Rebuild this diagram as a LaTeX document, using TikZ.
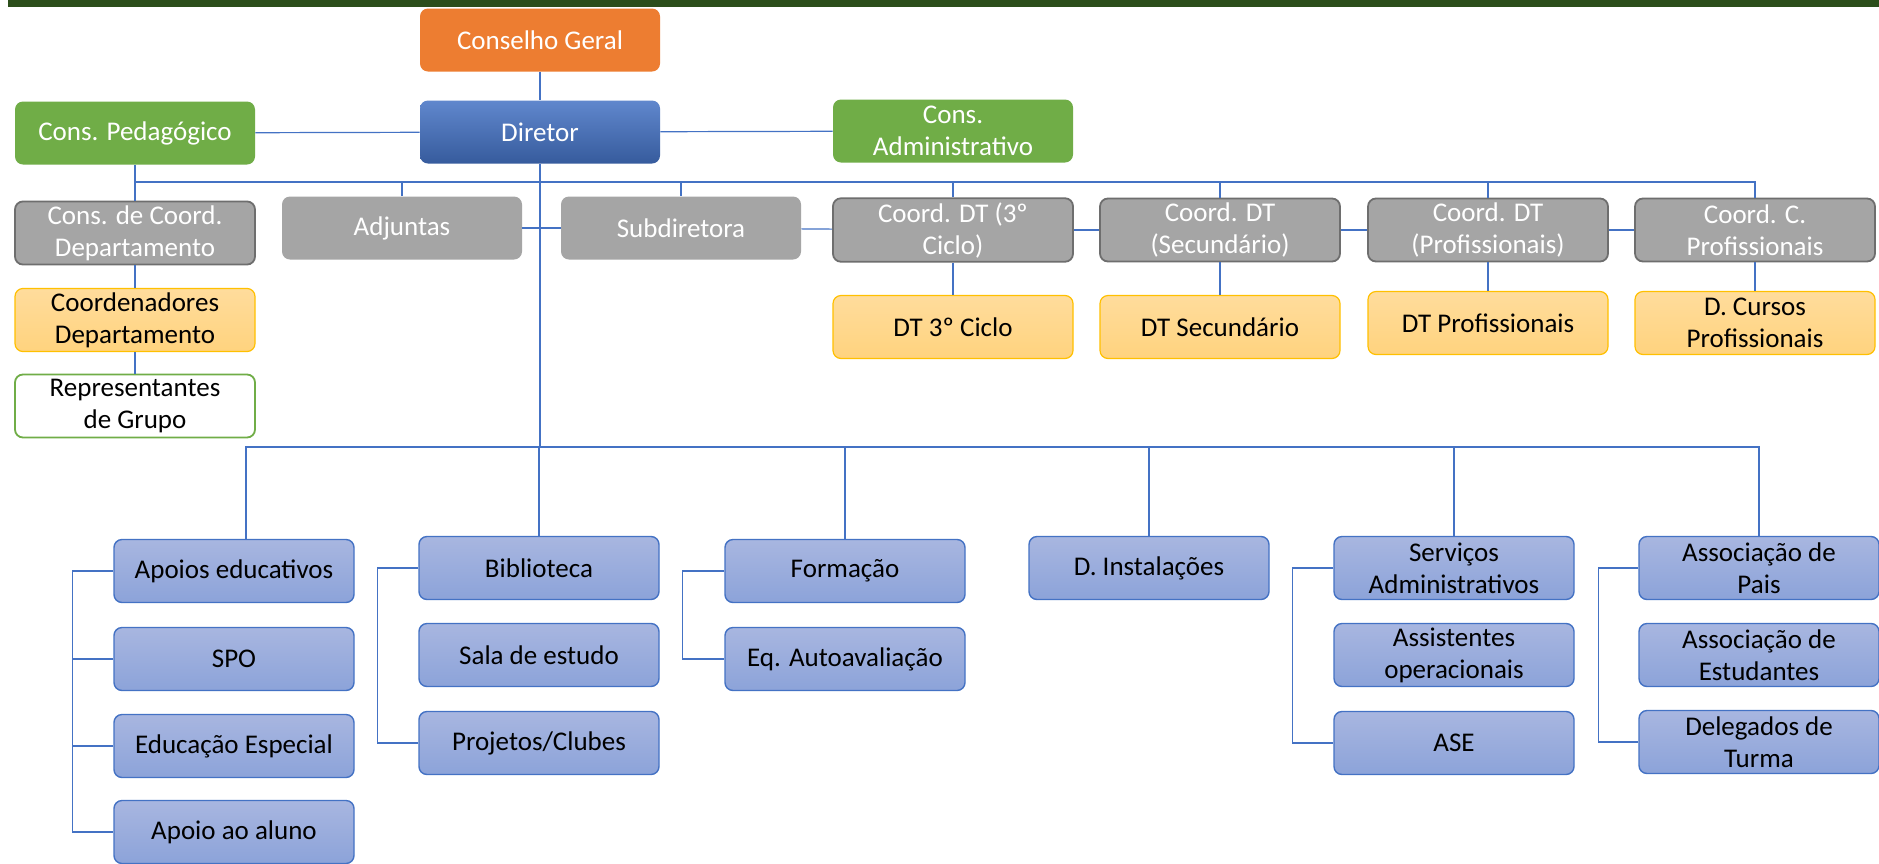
\documentclass[tikz,border=0pt]{standalone}
\usepackage{fontspec}
\setmainfont{Carlito}
\usepackage{tikz}

\definecolor{cBar}{RGB}{44,78,27}
\definecolor{cOrange}{RGB}{237,125,49}
\definecolor{cGreen}{RGB}{112,173,71}
\definecolor{cGray}{RGB}{165,165,165}
\definecolor{cGrayEdge}{RGB}{110,110,110}
\definecolor{cLine}{RGB}{68,114,196}
\definecolor{cBlueTop}{RGB}{168,182,224}
\definecolor{cBlueBot}{RGB}{140,163,217}
\definecolor{cYelTop}{RGB}{255,220,156}
\definecolor{cYelBot}{RGB}{255,211,126}
\definecolor{cYelEdge}{RGB}{255,192,0}

\begin{document}
\begin{tikzpicture}[x=0.5pt, y=-0.5pt,
  box/.style={rounded corners=4pt, minimum width=120pt, minimum height=31.5pt,
    align=center, inner sep=2pt, font=\fontsize{13.5}{16}\selectfont},
  cgbox/.style={box, fill=cOrange, text=white},
  dirbox/.style={box, top color=cLine!85!white, bottom color=cLine!80!black, text=white},
  greenbox/.style={box, fill=cGreen, text=white},
  coordbox/.style={box, fill=cGray, draw=cGrayEdge, line width=0.9pt, text=white},
  graybox/.style={box, fill=cGray, text=white},
  yelbox/.style={box, top color=cYelTop, bottom color=cYelBot, draw=cYelEdge, line width=0.6pt},
  repbox/.style={box, fill=white, draw=cGreen, line width=0.9pt},
  bluebox/.style={box, top color=cBlueTop, bottom color=cBlueBot, draw=cLine, line width=0.7pt},
  link/.style={draw=cLine, line width=0.6pt}]

\useasboundingbox (0,0) rectangle (1879,863);
\fill[white] (0,0) rectangle (1879,863);
\clip (0,0) rectangle (1879,863);
\fill[cBar] (8,0) rectangle (1879,7);

\node[cgbox] (cg) at (540,40) {Conselho Geral};
\node[dirbox] (dir) at (540,132) {Diretor};
\node[greenbox] (ped) at (135,133) {Cons. Pedagógico};
\node[greenbox] (adm) at (953,131) {Cons.\\Administrativo};

\node[coordbox] (ccd) at (135,233) {Cons. de Coord.\\Departamento};
\node[graybox] (adj) at (402,228) {Adjuntas};
\node[graybox] (sub) at (681,228) {Subdiretora};
\node[coordbox] (c3) at (953,230) {Coord. DT (3º\\Ciclo)};
\node[coordbox] (csec) at (1220,230) {Coord. DT\\(Secundário)};
\node[coordbox] (cprof) at (1488,230) {Coord. DT\\(Profissionais)};
\node[coordbox] (ccp) at (1755,230) {Coord. C.\\Profissionais};

\node[yelbox] (cdep) at (135,320) {Coordenadores\\Departamento};
\node[repbox] (rep) at (135,406) {Representantes\\de Grupo};
\node[yelbox] (dt3) at (953,327) {DT 3º Ciclo};
\node[yelbox] (dtsec) at (1220,327) {DT Secundário};
\node[yelbox] (dtprof) at (1488,323) {DT Profissionais};
\node[yelbox] (dcp) at (1755,323) {D. Cursos\\Profissionais};

\node[bluebox] (apo) at (234,571) {Apoios educativos};
\node[bluebox] (spo) at (234,659) {SPO};
\node[bluebox] (esp) at (234,746) {Educação Especial};
\node[bluebox] (alu) at (234,832) {Apoio ao aluno};
\node[bluebox] (bib) at (539,568) {Biblioteca};
\node[bluebox] (sala) at (539,655) {Sala de estudo};
\node[bluebox] (proj) at (539,743) {Projetos/Clubes};
\node[bluebox] (form) at (845,571) {Formação};
\node[bluebox] (eqa) at (845,659) {Eq. Autoavaliação};
\node[bluebox] (inst) at (1149,568) {D. Instalações};
\node[bluebox] (serv) at (1454,568) {Serviços\\Administrativos};
\node[bluebox] (assop) at (1454,655) {Assistentes\\operacionais};
\node[bluebox] (ase) at (1454,743) {ASE};
\node[bluebox] (apais) at (1759,568) {Associação de\\Pais};
\node[bluebox] (aest) at (1759,655) {Associação de\\Estudantes};
\node[bluebox] (deleg) at (1759,742) {Delegados de\\Turma};

\coordinate (top) at (540,182);
\coordinate (low) at (540,447);

\draw[link] (cg) -- (dir);
\draw[link] (ped) -- (dir);
\draw[link] (dir) -- (adm);
\draw[link] (dir.south) -- (low);
\draw[link] (ped) -- (ccd);
\draw[link] (ccd) -- (cdep);
\draw[link] (cdep) -- (rep);
\foreach \n in {ccd,adj,sub,c3,csec,cprof,ccp}
  \draw[link] (top) -| (\n.north);
\draw[link] (adj) -- (sub);
\draw[link] (sub) -- (c3);
\draw[link] (c3) -- (csec);
\draw[link] (csec) -- (cprof);
\draw[link] (cprof) -- (ccp);
\draw[link] (c3) -- (dt3);
\draw[link] (csec) -- (dtsec);
\draw[link] (cprof) -- (dtprof);
\draw[link] (ccp) -- (dcp);

\draw[link] (low) -| ([xshift=6pt]apo.north);
\foreach \n in {bib,form,inst,serv,apais}
  \draw[link] (low) -| (\n.north);

\draw[link] (apo.west) -- ++(-41,0) |- (alu.west);
\draw[link] (spo.west) -- ++(-41,0);
\draw[link] (esp.west) -- ++(-41,0);
\draw[link] (bib.west) -- ++(-41,0) |- (proj.west);
\draw[link] (form.west) -- ++(-42,0) |- (eqa.west);
\draw[link] (serv.west) -- ++(-41,0) |- (ase.west);
\draw[link] (apais.west) -- ++(-40,0) |- (deleg.west);
\end{tikzpicture}
\end{document}
